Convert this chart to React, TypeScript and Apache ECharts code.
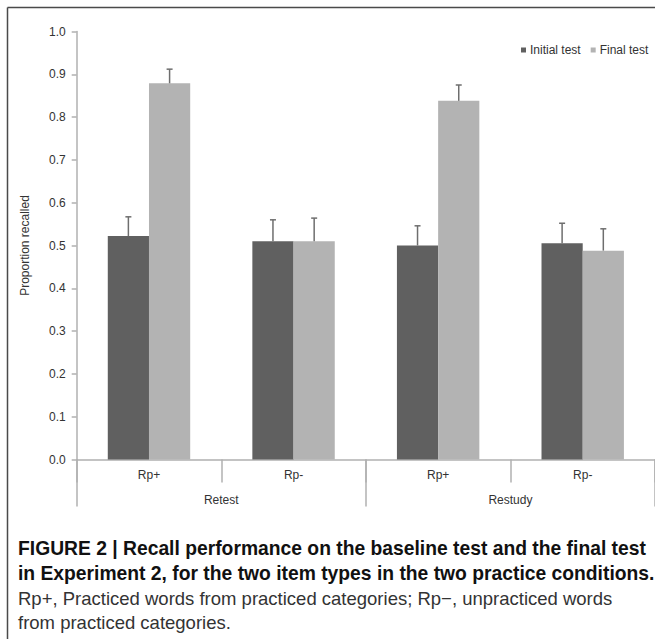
import React, { useEffect, useRef } from "react";
import * as echarts from "echarts";

const categories = ["Rp+", "Rp-", "Rp+", "Rp-"];
const groups = ["Retest", "Restudy"];
const initialTest = [0.522, 0.51, 0.5, 0.505];
const finalTest = [0.879, 0.51, 0.838, 0.488];
const initialErr = [0.045, 0.05, 0.046, 0.047];
const finalErr = [0.033, 0.054, 0.037, 0.051];
const yTicks = [0, 0.1, 0.2, 0.3, 0.4, 0.5, 0.6, 0.7, 0.8, 0.9, 1.0];

const captionLines = [
  { text: "FIGURE 2 | Recall performance on the baseline test and the final test", bold: true },
  { text: "in Experiment 2, for the two item types in the two practice conditions.", bold: true },
  { text: "Rp+, Practiced words from practiced categories; Rp\u2212, unpracticed words", bold: false },
  { text: "from practiced categories.", bold: false },
];

const FONT = "Liberation Sans, Arial, Helvetica, sans-serif";

function errorSeries(name: string, values: number[], errs: number[], side: number) {
  return {
    type: "custom",
    name: name + " err",
    xAxisIndex: 0,
    yAxisIndex: 0,
    z: 5,
    silent: true,
    data: values.map((v, i) => [i, v, errs[i]]),
    encode: { x: 0, y: 1 },
    renderItem: (params: any, api: any) => {
      const idx = api.value(0);
      const val = api.value(1);
      const err = api.value(2);
      const base = api.coord([idx, val]);
      const top = api.coord([idx, val + err]);
      const band = api.size([1, 0])[0];
      const x = base[0] + side * band * 0.1425;
      const style = { stroke: "#6e6e6e", lineWidth: 1.5 };
      return {
        type: "group",
        children: [
          { type: "line", shape: { x1: x, y1: base[1], x2: x, y2: top[1] }, style },
          { type: "line", shape: { x1: x - 3, y1: top[1], x2: x + 3, y2: top[1] }, style },
        ],
      };
    },
  };
}

export default function App() {
  const ref = useRef<HTMLDivElement>(null);
  useEffect(() => {
    if (!ref.current) return;
    const chart = echarts.init(ref.current, undefined, { renderer: "svg" });
    const captionY = [548, 573, 598, 622];
    chart.setOption({
      animation: false,
      backgroundColor: "#ffffff",
      textStyle: { fontFamily: FONT },
      grid: { left: 76.7, top: 31.5, width: 581.3, height: 428 },
      legend: {
        orient: "horizontal",
        left: 516,
        top: 39,
        width: 200,
        icon: "rect",
        itemWidth: 5,
        itemHeight: 5,
        itemGap: 10,
        textStyle: { fontSize: 12, color: "#333", fontFamily: FONT, padding: [0, 0, 0, -1] },
        data: ["Initial test", "Final test"],
      },
      xAxis: [
        {
          type: "category",
          data: categories,
          position: "bottom",
          axisLine: { show: true, lineStyle: { color: "#b0b0b0", width: 1.5 } },
          axisTick: { show: true, interval: 0, length: 23, lineStyle: { color: "#b0b0b0", width: 1.5 } },
          axisLabel: { interval: 0, margin: 9, fontSize: 12, color: "#333", fontFamily: FONT },
        },
        {
          type: "category",
          data: groups,
          position: "bottom",
          axisLine: { show: false },
          axisTick: { show: true, interval: 0, length: 47, lineStyle: { color: "#b0b0b0", width: 1.5 } },
          axisLabel: { interval: 0, margin: 34, fontSize: 12, color: "#333", fontFamily: FONT },
        },
      ],
      yAxis: {
        type: "value",
        min: yTicks[0],
        max: yTicks[yTicks.length - 1],
        interval: 0.1,
        name: "Proportion recalled",
        nameLocation: "middle",
        nameRotate: 90,
        nameGap: 46,
        nameTextStyle: { fontSize: 12, color: "#333", fontFamily: FONT },
        axisLine: { show: true, lineStyle: { color: "#b0b0b0", width: 1.5 } },
        axisTick: { show: true, length: 5, lineStyle: { color: "#b0b0b0", width: 1.5 } },
        splitLine: { show: false },
        axisLabel: {
          margin: 11,
          fontSize: 12,
          color: "#333",
          fontFamily: FONT,
          formatter: (v: number) => v.toFixed(1),
        },
      },
      series: [
        {
          type: "bar",
          name: "Initial test",
          data: initialTest,
          barGap: "0%",
          barCategoryGap: "43%",
          itemStyle: { color: "#606060" },
        },
        {
          type: "bar",
          name: "Final test",
          data: finalTest,
          barGap: "0%",
          barCategoryGap: "43%",
          itemStyle: { color: "#b3b3b3" },
        },
        errorSeries("Initial test", initialTest, initialErr, -1),
        errorSeries("Final test", finalTest, finalErr, 1),
      ],
      graphic: [
        { type: "line", shape: { x1: 7.5, y1: 7.5, x2: 660, y2: 7.5 }, style: { stroke: "#4a4a4a", lineWidth: 1.5 } },
        { type: "line", shape: { x1: 7.5, y1: 7.5, x2: 7.5, y2: 645 }, style: { stroke: "#4a4a4a", lineWidth: 1.5 } },
        ...captionLines.map((l, i) => ({
          type: "text",
          x: 18,
          y: captionY[i],
          style: {
            text: l.text,
            fontSize: l.bold ? 19.3 : 18.5,
            fontWeight: l.bold ? "bold" : "normal",
            fontFamily: FONT,
            fill: l.bold ? "#111" : "#333",
            textVerticalAlign: "middle",
            textAlign: "left",
          },
        })),
      ],
    });
    return () => chart.dispose();
  }, []);
  return (
    <div
      ref={ref}
      style={{ position: "fixed", left: 0, top: 0, width: 655, height: 639, overflow: "hidden" }}
    />
  );
}
